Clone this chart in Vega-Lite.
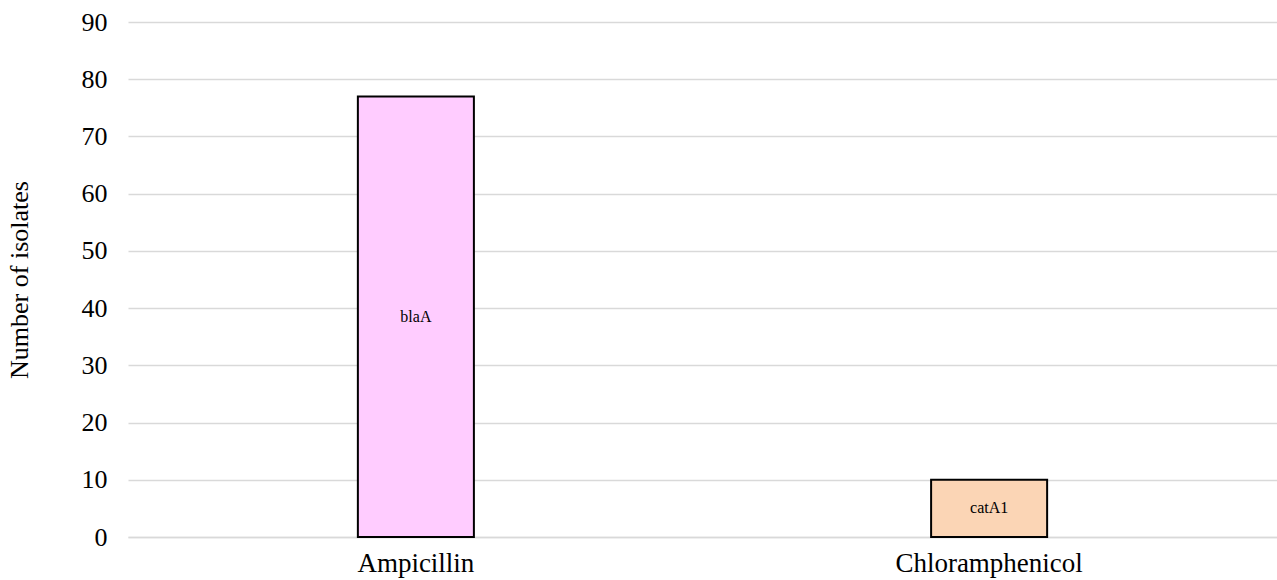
{
  "$schema": "https://vega.github.io/schema/vega-lite/v6.json",
  "width": 1149,
  "height": 515,
  "autosize": {"type": "none"},
  "padding": {"left": 128, "top": 22, "right": 0, "bottom": 43},
  "background": "white",
  "config": {
    "font": "Liberation Serif",
    "view": {"stroke": null}
  },
  "data": {
    "values": [
      {"antibiotic": "Ampicillin", "isolates": 77, "gene": "blaA"},
      {"antibiotic": "Chloramphenicol", "isolates": 10, "gene": "catA1"}
    ]
  },
  "transform": [{"calculate": "datum.isolates / 2", "as": "mid"}],
  "encoding": {
    "x": {
      "field": "antibiotic",
      "type": "nominal",
      "sort": null,
      "scale": {"paddingInner": 0.7976, "paddingOuter": 0.401},
      "axis": {
        "title": null,
        "labelAngle": 0,
        "labelFont": "Liberation Serif",
        "labelFontSize": 27,
        "labelColor": "#000000",
        "labelPadding": 13,
        "labelLimit": 0,
        "ticks": false,
        "domainColor": "#d9d9d9",
        "domainWidth": 1.5
      }
    }
  },
  "resolve": {"axis": {"y": "independent"}},
  "layer": [
    {
      "mark": {"type": "bar", "stroke": "#000000", "strokeWidth": 2},
      "encoding": {
        "y": {
          "field": "isolates",
          "type": "quantitative",
          "scale": {"domain": [0, 90], "nice": false},
          "axis": {
            "title": "Number of isolates",
            "titleFont": "Liberation Serif",
            "titleFontSize": 26,
            "titleFontWeight": "normal",
            "titleColor": "#000000",
            "titlePadding": 49,
            "values": [0, 10, 20, 30, 40, 50, 60, 70, 80, 90],
            "labelOverlap": false,
            "labelFont": "Liberation Serif",
            "labelFontSize": 26,
            "labelColor": "#000000",
            "labelPadding": 21,
            "ticks": false,
            "domain": false,
            "gridColor": "#d9d9d9",
            "gridWidth": 1.5
          }
        },
        "color": {
          "field": "antibiotic",
          "type": "nominal",
          "scale": {"domain": ["Ampicillin", "Chloramphenicol"], "range": ["#ffccff", "#fbd5b5"]},
          "legend": null
        }
      }
    },
    {
      "mark": {"type": "text", "font": "Liberation Serif", "fontSize": 16, "color": "#000000"},
      "encoding": {
        "y": {"field": "mid", "type": "quantitative", "axis": null},
        "text": {"field": "gene"}
      }
    }
  ]
}
